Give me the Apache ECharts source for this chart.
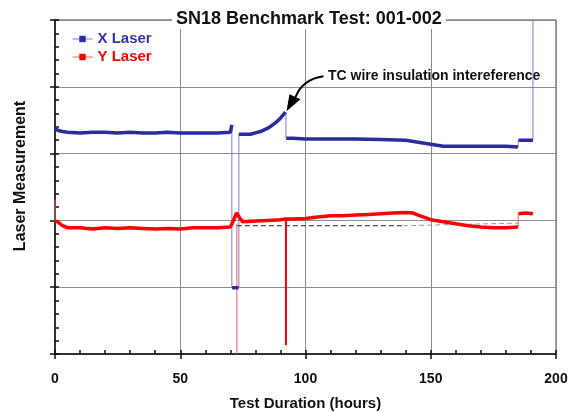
<!DOCTYPE html>
<html>
<head>
<meta charset="utf-8">
<script src="https://cdn.jsdelivr.net/npm/echarts@6/dist/echarts.min.js"></script>
<style>
html, body { margin: 0; padding: 0; background: #fff; }
#chart { width: 574px; height: 412px; }
</style>
</head>
<body>
<div id="chart"></div>
<script>
var FONT = 'Arial, "Liberation Sans", sans-serif';

/*--------------------- data (hours, reading) ---------------------*/
// X laser trace, '-' breaks the line where the signal jumps
var xLaser = [[0,3.38],[1,3.35],[3,3.33],[5,3.32],[10,3.31],[15,3.32],[20,3.32],[25,3.31],
    [30,3.32],[35,3.31],[40,3.31],[45,3.32],[50,3.31],[55,3.31],[60,3.31],[65,3.31],[70,3.32],
    [70.6,3.43],[70.65,'-'],[70.7,0.99],[73.3,0.99],[73.35,'-'],
    [73.4,3.29],[76,3.29],[78,3.29],[80,3.31],[82,3.33],[85,3.38],[88,3.46],[90,3.53],[92,3.62],
    [92.1,'-'],[92.3,3.23],[95,3.23],[100,3.22],[110,3.22],[120,3.22],[130,3.21],[140,3.20],
    [145,3.17],[150,3.14],[155,3.11],[160,3.11],[170,3.11],[180,3.11],[184.8,3.10],
    [184.85,'-'],[185,3.20],[190.8,3.20]];
// thin connecting strokes of the X jumps
var xJumps = [[70.6,3.43],[70.6,0.99],[70.6,'-'],[73.4,0.99],[73.4,3.29],[73.4,'-'],
    [92.2,3.62],[92.2,3.23],[92.2,'-'],[184.9,3.10],[184.9,3.20],[184.9,'-'],
    [190.8,3.20],[190.8,5.4]];

var yLaser = [[0,1.99],[1,1.98],[3,1.92],[5,1.89],[10,1.89],[15,1.87],[20,1.89],[25,1.88],
    [30,1.89],[35,1.88],[40,1.87],[45,1.88],[50,1.87],[55,1.89],[60,1.89],[65,1.89],[70,1.90],
    [71,1.98],[72.5,2.11],[74,2.02],[75,1.98],[80,1.99],[85,2.00],[90,2.01],[92,2.02],[95,2.02],
    [100,2.03],[105,2.05],[110,2.07],[115,2.07],[120,2.08],[125,2.09],[130,2.10],[135,2.11],
    [140,2.12],[143,2.11],[145,2.08],[150,2.01],[155,1.98],[160,1.95],[165,1.92],[170,1.90],
    [175,1.89],[180,1.89],[184.8,1.90],[184.85,'-'],[185,2.10],[188,2.11],[190.8,2.10]];
var yJumps = [[0,2.31],[0,1.99],[0,'-'],[72.6,1.95],[72.6,0],[72.6,'-'],[184.9,1.90],[184.9,2.10]];
var ySpike = [[92.2,2.02],[92.2,0.13]];

// dashed reference line under the Y trace
var baseDark = [[72.6,1.92],[139,1.92]];
var baseLight = [[139,1.92],[185,1.96]];

var spikePoint = [92, 3.62];
var xTicks = [0, 200, 50];   // min, max, step
var yTicks = [0, 5, 1];

var blue = '#2c2c9e';
var red = '#ff0000';

var myChart = echarts.init(document.getElementById('chart'));

var option = {
    backgroundColor: '#fff',
    animation: false,
    title: {
        text: 'SN18 Benchmark Test: 001-002',
        left: 172,
        top: 9,
        padding: [1, 4],
        backgroundColor: '#fff',
        textStyle: { fontFamily: FONT, fontSize: 18, fontWeight: 'bold', color: '#111' }
    },
    legend: {
        orient: 'vertical',
        left: 72,
        top: 31,
        padding: 0,
        itemWidth: 20,
        itemHeight: 8,
        itemGap: 2,
        lineStyle: { width: 1 },
        textStyle: { fontFamily: FONT, fontSize: 15, fontWeight: 'bold', lineHeight: 16 },
        data: [
            { name: 'X Laser', textStyle: { color: '#3535a8' } },
            { name: 'Y Laser', textStyle: { color: '#ff0000' } }
        ]
    },
    grid: {
        left: 55, right: 18, top: 20, bottom: 58,
        outerBoundsMode: 'none',
        show: true, borderColor: '#444', borderWidth: 1
    },
    xAxis: [{
        // main axis: inward minor ticks
        type: 'value', min: xTicks[0], max: xTicks[1], interval: xTicks[2],
        axisLine: { lineStyle: { color: '#111', width: 1.5 } },
        axisTick: { inside: true, length: 4, lineStyle: { color: '#111', width: 1.5 } },
        minorTick: { show: true, splitNumber: 5, length: 4, lineStyle: { color: '#111', width: 1.5 } },
        splitLine: { lineStyle: { color: '#8c8c8c', width: 1 } },
        axisLabel: { margin: 18, fontFamily: FONT, fontSize: 14, fontWeight: 'bold', color: '#111' },
        name: 'Test Duration (hours)',
        nameLocation: 'middle',
        nameGap: 42,
        nameTextStyle: { fontFamily: FONT, fontSize: 15, fontWeight: 'bold', color: '#111' }
    }, {
        // outward major ticks
        type: 'value', position: 'bottom', min: xTicks[0], max: xTicks[1], interval: xTicks[2],
        axisLine: { show: false },
        axisTick: { show: true, length: 5, lineStyle: { color: '#111', width: 1.5 } },
        axisLabel: { show: false },
        splitLine: { show: false }
    }],
    yAxis: [{
        type: 'value', min: yTicks[0], max: yTicks[1], interval: yTicks[2],
        axisLine: { show: true, lineStyle: { color: '#111', width: 1.5 } },
        axisTick: { show: true, inside: true, length: 4, lineStyle: { color: '#111', width: 1.5 } },
        minorTick: { show: true, splitNumber: 5, length: 4, lineStyle: { color: '#111', width: 1.5 } },
        splitLine: { lineStyle: { color: '#8c8c8c', width: 1 } },
        axisLabel: { show: false }
    }, {
        type: 'value', position: 'left', min: yTicks[0], max: yTicks[1], interval: yTicks[2],
        axisLine: { show: false },
        axisTick: { show: true, length: 5, lineStyle: { color: '#111', width: 1.5 } },
        axisLabel: { show: false },
        splitLine: { show: false }
    }],
    series: [
        {
            name: 'X Laser', type: 'line', data: xJumps,
            symbol: 'rect', symbolSize: 4, showSymbol: false, connectNulls: false,
            lineStyle: { color: '#7b7bd6', width: 1 }, itemStyle: { color: blue }, z: 3
        },
        {
            name: 'X Laser', type: 'line', data: xLaser,
            symbol: 'rect', symbolSize: 4, showSymbol: false, connectNulls: false,
            lineStyle: { color: blue, width: 3.5 }, itemStyle: { color: blue }, z: 4
        },
        {
            name: 'Base', type: 'line', data: baseDark, symbol: 'none',
            lineStyle: { color: '#222', width: 1, type: [5, 3] }, z: 3
        },
        {
            name: 'Base', type: 'line', data: baseLight, symbol: 'none',
            lineStyle: { color: '#999', width: 1, type: [5, 3] }, z: 3
        },
        {
            name: 'Y Laser', type: 'line', data: yJumps,
            symbol: 'rect', symbolSize: 4, showSymbol: false, connectNulls: false,
            lineStyle: { color: '#ff5a5a', width: 1 }, itemStyle: { color: red }, z: 3
        },
        {
            name: 'Y Laser', type: 'line', data: ySpike, symbol: 'none',
            lineStyle: { color: red, width: 2 }, z: 3
        },
        {
            name: 'Y Laser', type: 'line', data: yLaser,
            symbol: 'rect', symbolSize: 4, showSymbol: false, connectNulls: false,
            lineStyle: { color: red, width: 3.5 }, itemStyle: { color: red }, z: 4
        }
    ]
};

myChart.setOption(option);

// annotation: label + curved arrow pointing at the spike
var tip = myChart.convertToPixel({ xAxisIndex: 0, yAxisIndex: 0 }, spikePoint);
var tx = tip[0] + 1, ty = tip[1] - 1;
myChart.setOption({
    graphic: [
        {
            type: 'text', x: 21, y: 176, rotation: Math.PI / 2,
            style: {
                text: 'Laser Measurement', fill: '#111', align: 'center', verticalAlign: 'middle',
                font: 'bold 16px ' + FONT
            }
        },
        {
            type: 'text', x: 328, y: 76,
            style: {
                text: 'TC wire insulation intereference', fill: '#111', verticalAlign: 'middle',
                font: 'bold 14px ' + FONT
            }
        },
        {
            type: 'bezierCurve',
            shape: { x1: tx + 37, y1: ty - 35, cpx1: tx + 16, cpy1: ty - 32, x2: tx + 9, y2: ty - 14 },
            style: { stroke: '#000', lineWidth: 2, fill: null }
        },
        {
            type: 'polygon',
            shape: { points: [[tx, ty], [tx + 3, ty - 17], [tx + 14, ty - 12]] },
            style: { fill: '#000' }
        }
    ]
});
</script>
</body>
</html>
